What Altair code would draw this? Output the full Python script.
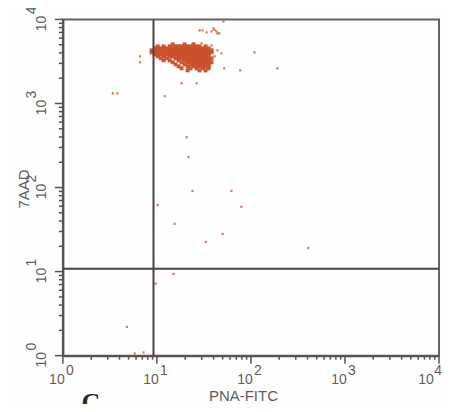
import altair as alt
import pandas as pd

# ---- data (PNA-FITC, 7AAD) ----
# dense population, one row of events per 7AAD level
row_5050 = [14.7, 19.7, 24.5]
row_4780 = [10.2, 11.8, 13.7, 15.8, 17.0, 18.3, 19.7, 21.2, 22.8, 24.5, 26.4, 28.4, 32.9]
row_4530 = [9.5, 10.2, 11.0, 11.8, 12.7, 13.7, 14.7, 15.8, 17.0, 18.3, 19.7, 21.2, 22.8, 24.5, 26.4, 28.4, 30.6, 32.9, 35.4]
row_4290 = [8.8, 9.5, 10.2, 11.0, 11.8, 12.7, 13.7, 14.7, 15.8, 17.0, 18.3, 19.7, 21.2, 22.8, 24.5, 26.4, 28.4, 30.6, 32.9, 35.4, 38.1]
row_4060 = [8.8, 9.5, 10.2, 11.0, 11.8, 12.7, 13.7, 14.7, 15.8, 17.0, 18.3, 19.7, 21.2, 22.8, 24.5, 26.4, 28.4, 30.6, 32.9, 35.4, 38.1]
row_3840 = [9.5, 10.2, 11.0, 11.8, 12.7, 13.7, 14.7, 15.8, 17.0, 18.3, 19.7, 21.2, 22.8, 24.5, 26.4, 28.4, 30.6, 32.9, 35.4]
row_3640 = [10.2, 11.8, 13.7, 14.7, 15.8, 17.0, 18.3, 19.7, 21.2, 22.8, 24.5, 26.4, 28.4, 30.6, 32.9, 35.4]
row_3445 = [11.0, 12.7, 15.8, 17.0, 18.3, 19.7, 21.2, 22.8, 24.5, 26.4, 28.4, 30.6, 32.9, 35.4, 38.1]
row_3260 = [11.8, 13.7, 17.0, 19.7, 21.2, 22.8, 24.5, 26.4, 28.4, 30.6, 32.9, 35.4]
row_3090 = [14.7, 18.3, 21.2, 22.8, 24.5, 26.4, 28.4, 30.6, 32.9, 35.4, 38.1]
row_2920 = [15.8, 19.7, 22.8, 24.5, 26.4, 28.4, 30.6, 32.9, 35.4]
row_2770 = [17.0, 21.2, 24.5, 26.4, 28.4, 30.6, 32.9, 35.4]
row_2620 = [18.3, 22.8, 26.4, 30.6, 35.4]
row_2480 = [21.2, 28.4, 32.9]
row_levels = [5050, 4780, 4530, 4290, 4060, 3840, 3640, 3445, 3260, 3090, 2920, 2770, 2620, 2480]

# scattered single events
sparse_pna = [18.3, 26.4, 12.1, 20.7, 21.7, 23.9, 62, 10.2, 79, 15.4, 50, 33, 15, 3.4, 3.8,
              6.6, 6.6, 28.4, 30.6, 38.1, 39.9, 43, 44, 41, 33.7, 51, 46, 109, 52, 77, 191,
              407, 4.8, 5.8, 7.2, 9.7, 29.9, 44.1, 48.6, 38.1, 41]
sparse_aad = [1740, 1740, 1220, 397, 230, 91, 91, 62, 59, 37, 28, 22.5, 9.4, 1320, 1320,
              3640, 3090, 7400, 7400, 7200, 7820, 7200, 6820, 7500, 7000, 9470, 6820, 4060, 2620, 2480, 2620,
              19.1, 2.2, 1.06, 1.09, 7.2, 5190, 4290, 3950, 4900, 3640]

# quadrant gates
gate_pna = [9.2]
gate_aad = [10.8]

# axes
decades = [1, 10, 100, 1000, 10000]
exponents = ["0", "1", "2", "3", "4"]
minor_ticks = [2, 3, 4, 5, 6, 7, 8, 9,
               20, 30, 40, 50, 60, 70, 80, 90,
               200, 300, 400, 500, 600, 700, 800, 900,
               2000, 3000, 4000, 5000, 6000, 7000, 8000, 9000]
x_title = "PNA-FITC"
y_title = "7AAD"
panel_label = "C"

# ---- build tables ----
rows = [row_5050, row_4780, row_4530, row_4290, row_4060, row_3840, row_3640,
        row_3445, row_3260, row_3090, row_2920, row_2770, row_2620, row_2480]
cluster = pd.DataFrame([{"pna": p, "aad": a} for a, r in zip(row_levels, rows) for p in r])
sparse = pd.DataFrame({"pna": sparse_pna, "aad": sparse_aad})
dec_df = pd.DataFrame({"decade": decades, "exp": exponents})
minor_df = pd.DataFrame({"decade": minor_ticks})

W, H = 377, 337
RED = "#c9512b"
AX = "#5a5050"
TXT = "#5e5e5e"
FONT = "Liberation Sans"

xscale = alt.Scale(type="log", domain=[1, 10000], nice=False)
yscale = alt.Scale(type="log", domain=[1, 10000], nice=False)
common_axis = dict(values=decades, labels=False, ticks=False, title=None, grid=False,
                   domainColor=AX, domainWidth=2)
xaxis = alt.Axis(**common_axis)
yaxis = alt.Axis(**common_axis)

X = lambda f: alt.X(f, scale=xscale, axis=xaxis)
Y = lambda f: alt.Y(f, scale=yscale, axis=yaxis)

pts = alt.Chart(cluster).mark_square(size=16, color=RED, opacity=0.95, strokeWidth=0).encode(
    x=X("pna:Q"), y=Y("aad:Q"))
spts = alt.Chart(sparse).mark_square(size=5, color=RED, opacity=0.75, strokeWidth=0).encode(
    x=X("pna:Q"), y=Y("aad:Q"))
vline = alt.Chart(pd.DataFrame({"pna": gate_pna})).mark_rule(color="#4e4040", strokeWidth=2).encode(
    x=X("pna:Q"))
hline = alt.Chart(pd.DataFrame({"aad": gate_aad})).mark_rule(color="#4e4040", strokeWidth=2).encode(
    y=Y("aad:Q"))

# axis ticks (outward): majors 8px, minors 4px
tk = dict(color=AX, strokeWidth=1.5)
xmaj = alt.Chart(dec_df).mark_rule(**tk).encode(x=X("decade:Q"), y=alt.value(H), y2=alt.value(H + 8))
xmin = alt.Chart(minor_df).mark_rule(**tk).encode(x=X("decade:Q"), y=alt.value(H), y2=alt.value(H + 4))
ymaj = alt.Chart(dec_df).mark_rule(**tk).encode(y=Y("decade:Q"), x=alt.value(0), x2=alt.value(-8))
ymin = alt.Chart(minor_df).mark_rule(**tk).encode(y=Y("decade:Q"), x=alt.value(0), x2=alt.value(-4))

tstyle = dict(font=FONT, fontSize=14, color=TXT, align="center", baseline="middle")
xb = alt.Chart(dec_df).transform_filter("datum.decade < 10000").mark_text(dx=-6, **tstyle).encode(
    x=X("decade:Q"), y=alt.value(H + 24.5), text=alt.value("10"))
xb4 = alt.Chart(dec_df).transform_filter("datum.decade >= 10000").mark_text(dx=-13, **tstyle).encode(
    x=X("decade:Q"), y=alt.value(H + 24.5), text=alt.value("10"))
xe = alt.Chart(dec_df).transform_filter("datum.decade < 10000").mark_text(dx=7, **tstyle).encode(
    x=X("decade:Q"), y=alt.value(H + 15.5), text="exp:N")
xe4 = alt.Chart(dec_df).transform_filter("datum.decade >= 10000").mark_text(dx=-1, **tstyle).encode(
    x=X("decade:Q"), y=alt.value(H + 15.5), text="exp:N")

yb = alt.Chart(dec_df).mark_text(angle=270, dx=-4, **tstyle).encode(
    y=Y("decade:Q"), x=alt.value(-21), text=alt.value("10"))
ye = alt.Chart(dec_df).mark_text(angle=270, dx=9, **tstyle).encode(
    y=Y("decade:Q"), x=alt.value(-31), text="exp:N")

xt = alt.Chart(pd.DataFrame({"t": [x_title]})).mark_text(font=FONT, fontSize=15, color=TXT,
                                                          align="center", baseline="middle").encode(
    x=alt.value(181), y=alt.value(H + 40), text="t:N")
yt = alt.Chart(pd.DataFrame({"t": [y_title]})).mark_text(font=FONT, fontSize=15, color=TXT, angle=270,
                                                          align="center", baseline="middle").encode(
    x=alt.value(-39), y=alt.value(170), text="t:N")
ct = alt.Chart(pd.DataFrame({"t": [panel_label]})).mark_text(font="Liberation Serif", fontSize=26,
                                                             fontWeight="bold", color="#2b2b1e",
                                                             align="center", baseline="top").encode(
    x=alt.value(28), y=alt.value(H + 34), text="t:N")

chart = alt.layer(pts, spts, vline, hline, xmaj, xmin, ymaj, ymin,
                  xb, xb4, xe, xe4, yb, ye, xt, yt, ct).properties(
    width=W, height=H,
    padding={"left": 55, "top": 11, "right": 6, "bottom": 48},
    autosize=alt.AutoSizeParams(type="none"),
    background="#fefefe",
).configure_view(stroke="#666060", strokeWidth=2)

chart.save("out.html", embed_options={"renderer": "svg", "actions": False})
